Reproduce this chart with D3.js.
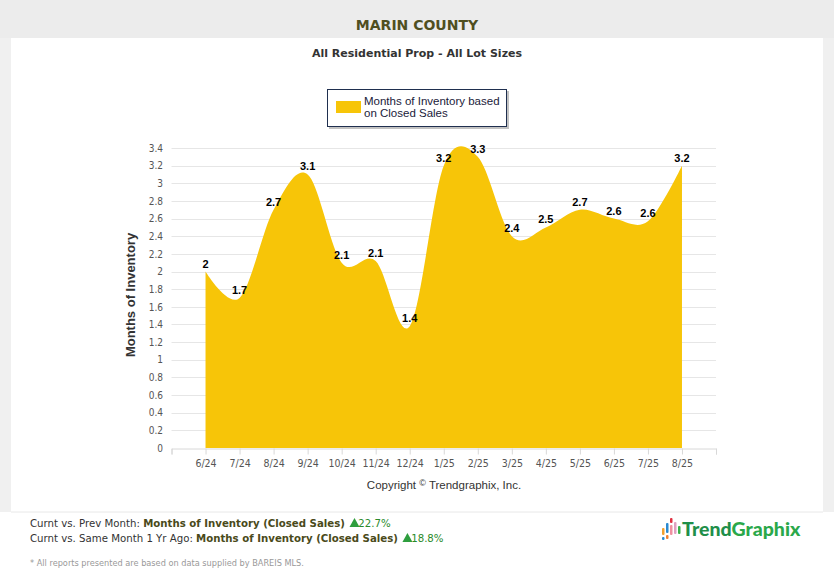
<!DOCTYPE html>
<html><head><meta charset="utf-8">
<script src="https://cdn.jsdelivr.net/npm/d3@7/dist/d3.min.js"></script>
<style>
html,body{margin:0;padding:0;background:#fff;}
svg{display:block;}
</style></head>
<body>
<svg id="c" width="834" height="583"></svg>
<script>
const months = ["6/24","7/24","8/24","9/24","10/24","11/24","12/24","1/25","2/25","3/25","4/25","5/25","6/25","7/25","8/25"];
const inventory = [2.0,1.7,2.7,3.1,2.1,2.12,1.38,3.2,3.3,2.4,2.5,2.7,2.6,2.57,3.2];
const yTicks = [0,0.2,0.4,0.6,0.8,1,1.2,1.4,1.6,1.8,2,2.2,2.4,2.6,2.8,3,3.2,3.4];
const title = "MARIN COUNTY";
const subtitle = "All Residential Prop - All Lot Sizes";
const seriesName = ["Months of Inventory based","on Closed Sales"];
const yTitle = "Months of Inventory";
const compare = [
  {label:"Curnt vs. Prev Month: ", metric:"Months of Inventory (Closed Sales)", pct:"22.7%"},
  {label:"Curnt vs. Same Month 1 Yr Ago: ", metric:"Months of Inventory (Closed Sales)", pct:"18.8%"}
];

const svg = d3.select("#c");
// background frame
svg.append("rect").attr("x",0).attr("y",0).attr("width",834).attr("height",38).attr("fill","#ececec");
svg.append("rect").attr("x",0).attr("y",38).attr("width",11).attr("height",474).attr("fill","#f0f0f0");
svg.append("rect").attr("x",823).attr("y",38).attr("width",11).attr("height",474).attr("fill","#f0f0f0");
svg.append("rect").attr("x",11).attr("y",38).attr("width",812).attr("height",474).attr("fill","#fff");
svg.append("line").attr("x1",11).attr("x2",823).attr("y1",512).attr("y2",512).attr("stroke","#e8e8e8");

svg.append("text").attr("x",417).attr("y",30).attr("text-anchor","middle")
  .attr("font-family","DejaVu Sans, Verdana, sans-serif").attr("font-weight","bold").attr("font-size",14)
  .attr("fill","#4f4f1f").text(title);
svg.append("text").attr("x",417).attr("y",57).attr("text-anchor","middle")
  .attr("font-family","DejaVu Sans, Verdana, sans-serif").attr("font-weight","bold").attr("font-size",11)
  .attr("fill","#333").text(subtitle);

// legend
const lg = svg.append("g");
lg.append("rect").attr("x",329).attr("y",91).attr("width",180).attr("height",38).attr("fill","#9a9a9a").attr("opacity",0.6);
lg.append("rect").attr("x",327.5).attr("y",89.5).attr("width",179).attr("height",37).attr("fill","#fff").attr("stroke","#1f2f4f");
lg.append("rect").attr("x",336).attr("y",101).attr("width",25).attr("height",12).attr("fill","#f7c508");
lg.selectAll("text.l").data(seriesName).join("text").attr("x",364).attr("y",(d,i)=>104.5+i*12.5)
  .attr("font-family","Liberation Sans, Arial, sans-serif").attr("font-size",11.5).attr("fill","#1a1a3a").text(d=>d);

const x = d3.scaleLinear().domain([0,16]).range([171.5,716]);
const y = d3.scaleLinear().domain([0,3.4]).range([448,148]);

// grid
svg.append("g").selectAll("line").data(yTicks.slice(1)).join("line")
  .attr("x1",171.5).attr("x2",716).attr("y1",d=>Math.round(y(d))+0.5).attr("y2",d=>Math.round(y(d))+0.5)
  .attr("stroke","#e6e6e6");

// area
const area = d3.area().x((d,i)=>x(i+1)).y0(y(0)).y1(d=>y(d)).curve(d3.curveCardinal.tension(0));
svg.append("path").datum(inventory).attr("d",area).attr("fill","#f7c508");

// y axis
const ya = svg.append("g").attr("transform","translate(168,0)")
  .call(d3.axisLeft(y).tickValues(yTicks).tickSize(0).tickFormat(d3.format("~g")));
ya.select(".domain").remove();
ya.selectAll("text").attr("font-family","Liberation Sans Narrow, DejaVu Sans Condensed, sans-serif").attr("font-size",10).attr("fill","#555").attr("dx",-2);

// x axis
const xa = svg.append("g").attr("transform","translate(0,448.5)")
  .call(d3.axisBottom(x).tickValues(d3.range(17)).tickSize(6).tickFormat(i=>months[i-1]||""));
xa.select(".domain").attr("stroke","#d8d8d8");
xa.selectAll(".tick line").attr("stroke","#d8d8d8");
xa.selectAll("text").attr("font-family","Liberation Sans Narrow, DejaVu Sans Condensed, sans-serif").attr("font-size",10.5).attr("fill","#555").attr("dy","0.9em");

// data labels
svg.append("g").selectAll("text").data(inventory).join("text")
  .attr("x",(d,i)=>x(i+1)).attr("y",d=>y(d)-4).attr("text-anchor","middle")
  .attr("font-family","Liberation Sans, Arial, sans-serif").attr("font-weight","bold").attr("font-size",11)
  .attr("fill","#000").text(d=>d3.format("~g")(Math.round(d*10)/10));

// y title
svg.append("text").attr("transform","translate(135,295) rotate(-90)").attr("text-anchor","middle")
  .attr("font-family","Liberation Sans, Arial, sans-serif").attr("font-weight","bold").attr("font-size",13)
  .attr("fill","#333").text(yTitle);

// copyright
const cp = svg.append("text").attr("x",444).attr("y",489).attr("text-anchor","middle")
  .attr("font-family","Liberation Sans, Arial, sans-serif").attr("font-size",11.5).attr("fill","#333");
cp.append("tspan").text("Copyright ");
cp.append("tspan").attr("font-size",9).attr("dy",-3).text("©");
cp.append("tspan").attr("dy",3).text(" Trendgraphix, Inc.");

// comparison lines
compare.forEach((c,i)=>{
  const t = svg.append("text").attr("x",30).attr("y",527+i*15)
    .attr("font-family","DejaVu Sans, Verdana, sans-serif").attr("font-size",10.2).attr("fill","#333");
  t.append("tspan").text(c.label);
  t.append("tspan").attr("font-weight","bold").attr("fill","#4a4a1a").text(c.metric+" ");
  t.append("tspan").attr("class","tri").text("\u00a0\u00a0\u00a0");
  t.append("tspan").attr("fill","#2a8a2a").text(c.pct);
  const bb = t.select(".tri").node();
  const ext = bb.getStartPositionOfChar ? bb.getStartPositionOfChar(0) : null;
  if(ext){
    const px = ext.x+1, py = 527+i*15;
    svg.append("path").attr("d",`M${px},${py} L${px+5},${py-9} L${px+10},${py} Z`).attr("fill","#2e9e3e");
  }
});

svg.append("text").attr("x",30).attr("y",566)
  .attr("font-family","DejaVu Sans, Verdana, sans-serif").attr("font-size",8.2).attr("fill","#999")
  .text("* All reports presented are based on data supplied by BAREIS MLS.");

// logo
const logo = svg.append("g");
const bars = [
  {x:662,y:528,h:7,c:"#f0a030"},{x:662,y:537,h:3,c:"#2a8ad0"},
  {x:666,y:523,h:10,c:"#2a8ad0"},{x:666,y:535,h:4,c:"#f08030"},
  {x:670,y:518,h:5,c:"#e03040"},{x:670,y:525,h:10,c:"#f090a0"},
  {x:674,y:522,h:12,c:"#e0a0c0"},
  {x:678,y:526,h:8,c:"#3ab04a"}
];
logo.selectAll("rect").data(bars).join("rect").attr("x",d=>d.x).attr("y",d=>d.y).attr("width",2.5).attr("height",d=>d.h).attr("rx",1).attr("fill",d=>d.c);
const lt = logo.append("text").attr("x",682).attr("y",536).attr("font-family","Lato, Open Sans, sans-serif").attr("font-weight","900").attr("font-size",19.5);
lt.append("tspan").attr("fill","#1f8f4a").text("Trend");
lt.append("tspan").attr("fill","#2aa84a").text("Graphix");
</script>
</body></html>
